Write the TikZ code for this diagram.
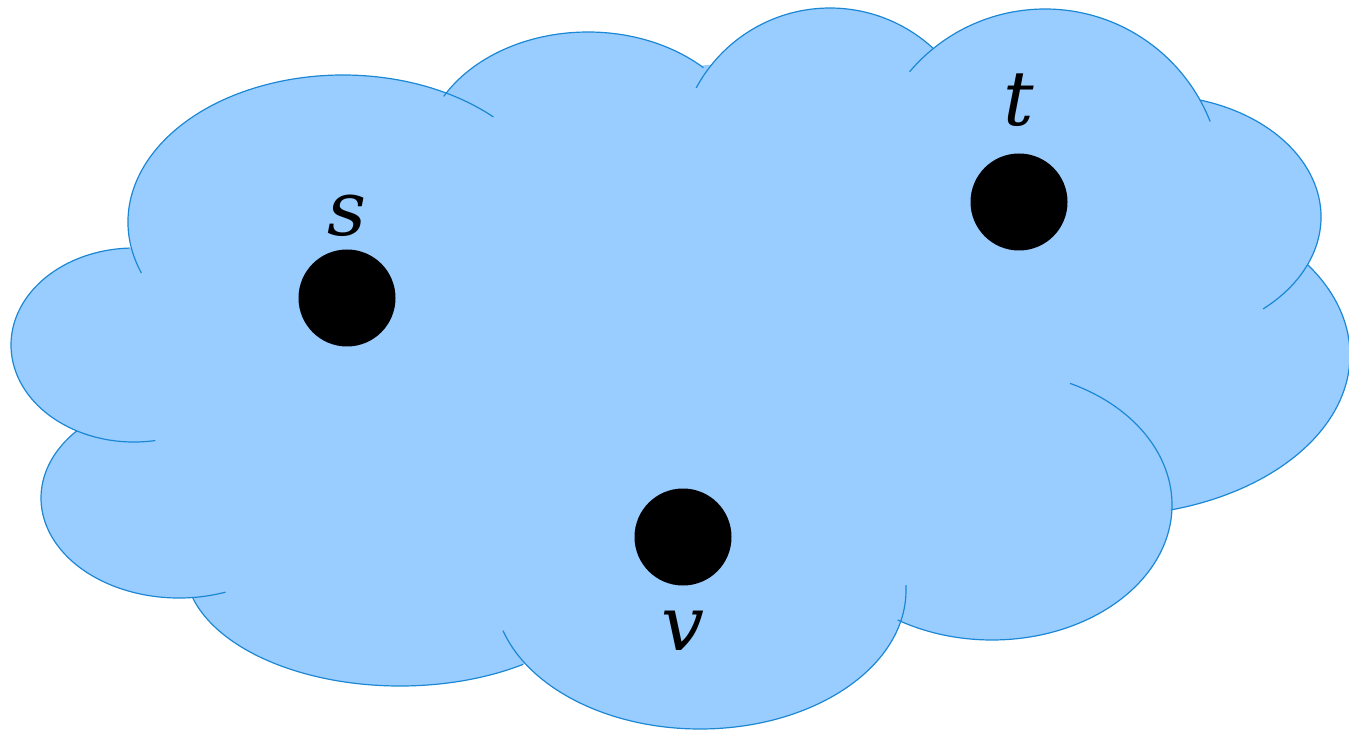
\documentclass[tikz,border=0pt]{standalone}
\usepackage{fontspec}
\setmainfont{DejaVu Serif}
\usepackage{tikz}
\usetikzlibrary{positioning}
\definecolor{cloudfill}{RGB}{153,204,255}
\definecolor{cloudline}{RGB}{28,136,212}

\begin{document}
\begin{tikzpicture}[x=0.5pt,y=-0.5pt,font=\fontsize{38}{40}\selectfont\itshape,
  dot/.style={circle,fill=black,inner sep=0pt,minimum size=48.5pt},
  lbl/.style={inner sep=0pt},
  rim/.style={cloudline,line width=0.6pt}]
\useasboundingbox (0,0) rectangle (1349,732);
\clip (0,0) rectangle (1349,732);
% cloud body
\fill[cloudfill] (130,248)--(445,97)--(707,65)--(934,48)--(1200,100)--(1308,265)--(1171,510)--(897,621)--(522,660)--(192,597)--(77,431)--cycle;
\fill[cloudfill] (343,222) ellipse[x radius=215,y radius=147];
\fill[cloudfill] (588,157) ellipse[x radius=165,y radius=125];
\fill[cloudfill] (830,160) ellipse[x radius=152,y radius=152];
\fill[cloudfill] (1045,186.5) ellipse[x radius=177.5,y radius=177.5];
\fill[cloudfill] (1152,217) ellipse[x radius=169,y radius=122];
\fill[cloudfill] (1104,355) ellipse[x radius=246,y radius=161];
\fill[cloudfill] (992,505) ellipse[x radius=180,y radius=135];
\fill[cloudfill] (700,590) ellipse[x radius=206,y radius=139];
\fill[cloudfill] (400,566) ellipse[x radius=215,y radius=120];
\fill[cloudfill] (179,498) ellipse[x radius=138,y radius=100];
\fill[cloudfill] (134,345) ellipse[x radius=123,y radius=97];
% rim of the lobes
\draw[rim] (343,222) ++(159.7:215 and 147) arc[start angle=159.7,end angle=314.4,x radius=215,y radius=147];
\draw[rim] (588,157) ++(209:165 and 125) arc[start angle=209,end angle=314.4,x radius=165,y radius=125];
\draw[rim] (830,160) ++(208.3:152 and 152) arc[start angle=208.3,end angle=312.9,x radius=152,y radius=152];
\draw[rim] (1045,186.5) ++(220.3:177.5 and 177.5) arc[start angle=220.3,end angle=338.5,x radius=177.5,y radius=177.5];
\draw[rim] (1152,217) ++(286.5:169 and 122) arc[start angle=286.5,end angle=408.9,x radius=169,y radius=122];
\draw[rim] (1104,355) ++(326:246 and 161) arc[start angle=326,end angle=434.2,x radius=246,y radius=161];
\draw[rim] (992,505) ++(295.7:180 and 135) arc[start angle=295.7,end angle=481.6,x radius=180,y radius=135];
\draw[rim] (700,590) ++(-2:206 and 139) arc[start angle=-2,end angle=163,x radius=206,y radius=139];
\draw[rim] (400,566) ++(55:215 and 120) arc[start angle=55,end angle=165,x radius=215,y radius=120];
\draw[rim] (179,498) ++(70.3:138 and 100) arc[start angle=70.3,end angle=222.2,x radius=138,y radius=100];
\draw[rim] (134,345) ++(80:123 and 97) arc[start angle=80,end angle=268,x radius=123,y radius=97];
% vertices
\node[dot] (s) at (347,298) {};
\node[dot] (t) at (1019,202) {};
\node[dot] (v) at (683,537) {};
\node[lbl,above=6pt of s] (slbl) {s};
\node[lbl,above=13pt of t] (tlbl) {t};
\node[lbl,below=12.5pt of v] (vlbl) {v};
\end{tikzpicture}
\end{document}
